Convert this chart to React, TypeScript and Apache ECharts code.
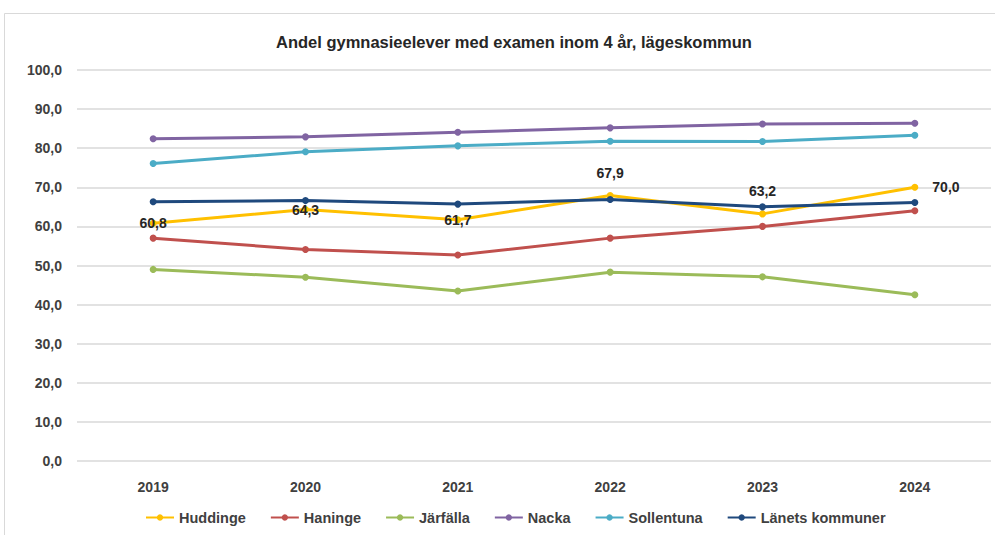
import React, { useEffect, useRef } from "react";
import * as echarts from "echarts";

const title = "Andel gymnasieelever med examen inom 4 år, lägeskommun";
const years = ["2019", "2020", "2021", "2022", "2023", "2024"];
const seriesNames = ["Huddinge", "Haninge", "Järfälla", "Nacka", "Sollentuna", "Länets kommuner"];
const huddinge = [60.8, 64.3, 61.7, 67.9, 63.2, 70.0];
const haninge = [57.0, 54.1, 52.7, 57.0, 60.0, 64.0];
const jarfalla = [49.0, 47.0, 43.5, 48.3, 47.1, 42.5];
const nacka = [82.4, 82.9, 84.1, 85.2, 86.2, 86.4];
const sollentuna = [76.1, 79.1, 80.6, 81.8, 81.7, 83.3];
const lanets = [66.3, 66.6, 65.7, 66.9, 65.0, 66.1];
const huddingeLabelPos = ["inside", "inside", "inside", "top", "top", "right"];
const colors = ["#FFC000", "#C0504D", "#9BBB59", "#8064A2", "#4BACC6", "#1F497D"];

const font = "'Liberation Sans', Arial, sans-serif";
const fmt = (v: number) => v.toFixed(1).replace(".", ",");

export default function App() {
  const ref = useRef<HTMLDivElement>(null);
  useEffect(() => {
    if (!ref.current) return;
    const chart = echarts.init(ref.current, undefined, { renderer: "svg" });
    const all = [huddinge, haninge, jarfalla, nacka, sollentuna, lanets];
    chart.setOption({
      animation: false,
      backgroundColor: "#ffffff",
      title: {
        text: title,
        left: 271,
        top: 28,
        textStyle: { fontFamily: font, fontWeight: "bold", fontSize: 16.5, color: "#262626" },
      },
      graphic: [
        {
          type: "rect",
          shape: { x: 4.5, y: 13.5, width: 1000, height: 600 },
          style: { fill: "none", stroke: "#d9d9d9", lineWidth: 1 },
          silent: true,
        },
      ],
      legend: {
        bottom: 5,
        left: 140,
        itemWidth: 28,
        itemHeight: 8,
        itemGap: 24,
        data: seriesNames,
        textStyle: { fontFamily: font, fontWeight: "bold", fontSize: 14.5, color: "#404040" },
      },
      grid: { left: 77, right: 4, top: 70, bottom: 74 },
      xAxis: {
        type: "category",
        data: years,
        boundaryGap: true,
        axisLine: { show: false },
        axisTick: { show: false },
        axisLabel: { margin: 19, fontFamily: font, fontWeight: "bold", fontSize: 14, color: "#404040" },
      },
      yAxis: {
        type: "value",
        min: 0,
        max: 100,
        interval: 10,
        axisLabel: {
          margin: 15,
          formatter: (v: number) => fmt(v),
          fontFamily: font,
          fontWeight: "bold",
          fontSize: 14,
          color: "#404040",
        },
        splitLine: { lineStyle: { color: "#d9d9d9", width: 1.5 } },
        axisLine: { show: false },
        axisTick: { show: false },
      },
      series: seriesNames.map((name, i) => ({
        name,
        type: "line",
        data:
          i === 0
            ? all[i].map((v, j) => ({
                value: v,
                label: { show: true, position: huddingeLabelPos[j], distance: j === 5 ? 14 : 12 },
              }))
            : all[i],
        symbol: "circle",
        symbolSize: 7,
        lineStyle: { width: 3, color: colors[i] },
        itemStyle: { color: colors[i] },
        z: 2 + i,
        label: {
          show: false,
          formatter: (p: any) => fmt(p.value),
          fontFamily: font,
          fontWeight: "bold",
          fontSize: 14,
          color: "#262626",
        },
      })),
    });
    return () => chart.dispose();
  }, []);
  return <div ref={ref} style={{ width: 995, height: 535, position: "absolute", left: 0, top: 0 }} />;
}
